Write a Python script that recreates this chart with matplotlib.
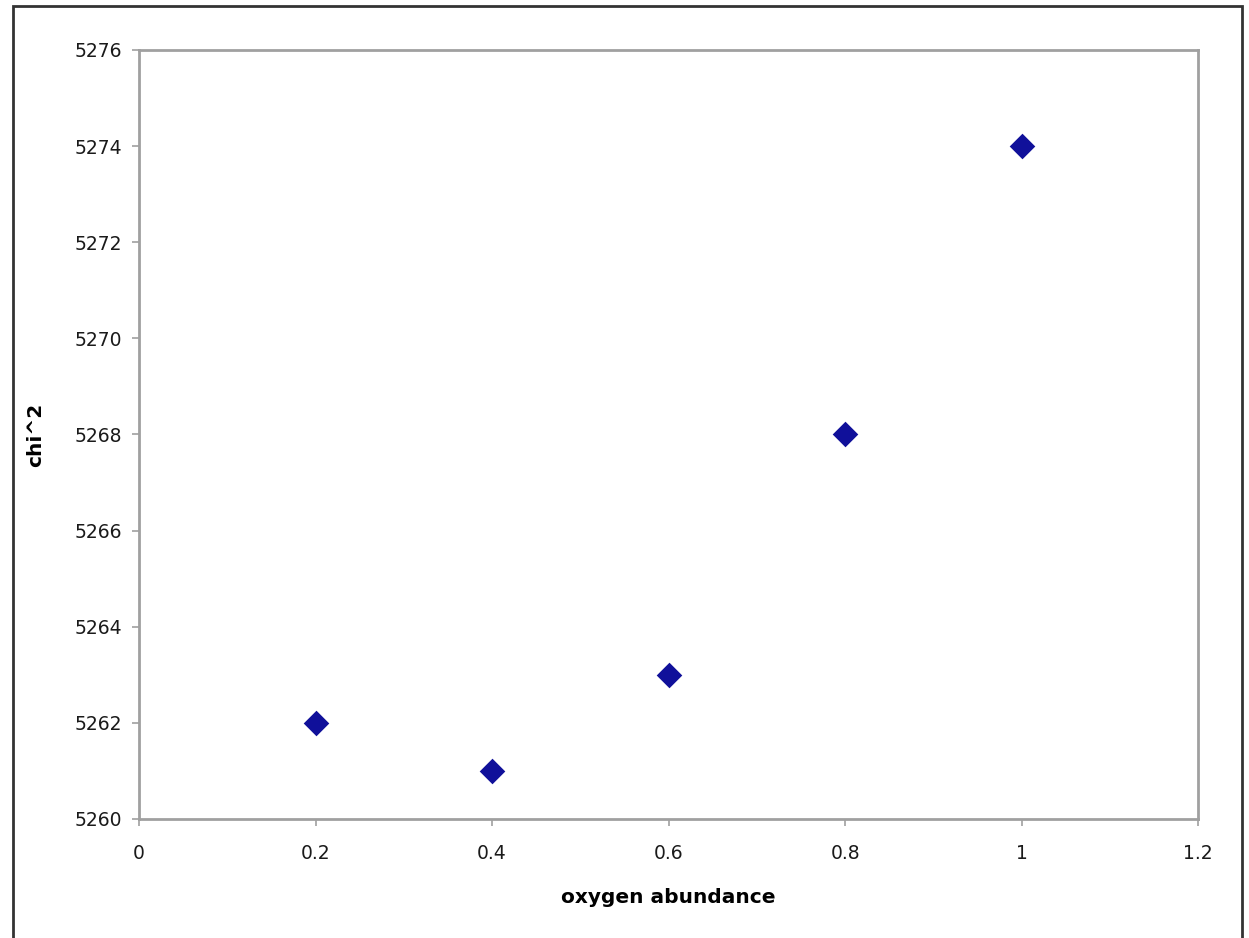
import matplotlib.pyplot as plt
from matplotlib.patches import Rectangle

# data
oxygen = [0.2, 0.4, 0.6, 0.8, 1.0]
chi2 = [5262, 5261, 5263, 5268, 5274]

x_ticks = [0, 0.2, 0.4, 0.6, 0.8, 1, 1.2]
x_labels = ['0', '0.2', '0.4', '0.6', '0.8', '1', '1.2']
y_ticks = [5260, 5262, 5264, 5266, 5268, 5270, 5272, 5274, 5276]

plt.rcParams['font.family'] = ['DejaVu Sans']

fig = plt.figure(figsize=(12.49, 9.38), dpi=100)
ax = fig.add_axes([0.1113, 0.1269, 0.848, 0.8198])

ax.scatter(oxygen, chi2, marker='D', s=170, color='#10109a', zorder=3, linewidths=0)

ax.set_xlim(0, 1.2)
ax.set_ylim(5260, 5276)
ax.set_xticks(x_ticks)
ax.set_xticklabels(x_labels)
ax.set_yticks(y_ticks)

for s in ax.spines.values():
    s.set_color('#a0a0a0')
    s.set_linewidth(2)

ax.tick_params(axis='both', colors='#a0a0a0', labelcolor='#1a1a1a',
               labelsize=13.5, length=5, width=1.2, direction='out')
ax.tick_params(axis='x', pad=13)
ax.tick_params(axis='y', pad=7)

ax.set_xlabel('oxygen abundance', fontsize=14.5, fontweight='bold', labelpad=18)
ax.set_ylabel('chi^2', fontsize=14.5, fontweight='bold', labelpad=21)

# outer chart border
fig.patches.append(Rectangle((13 / 1249, -0.05), 1229 / 1249, 1 - 6 / 938 + 0.05,
                             transform=fig.transFigure, fill=False,
                             edgecolor='#333333', linewidth=2))

fig.savefig('out.png', dpi=100)
